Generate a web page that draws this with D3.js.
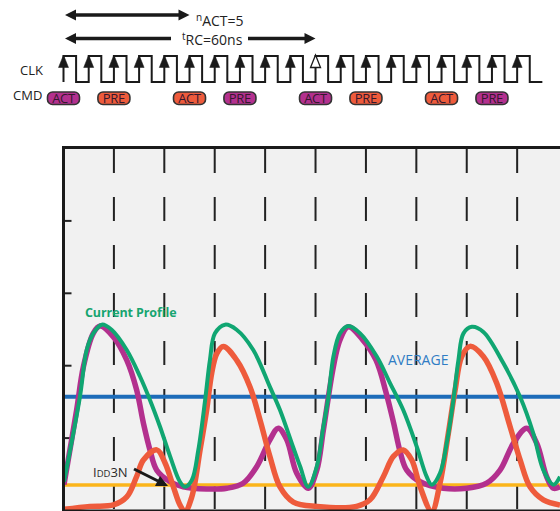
<!DOCTYPE html>
<html><head><meta charset="utf-8">
<script src="https://cdn.jsdelivr.net/npm/d3@7"></script>
<style>body{margin:0;background:#fff;}svg{display:block}</style>
</head><body>
<svg id="c" width="560" height="511"></svg>
<script>
// ---- data ----
const clockRises = [0,1,2,3,4,5,6,7,8,9,10,11,12,13,14,15,16,17,18];
const hollowRise = 10;
const cmdCycles = [0,2,5,7,10,12,15,17];
const cmdLabels = ["ACT","PRE","ACT","PRE","ACT","PRE","ACT","PRE"];
const cmdBanks  = ["A","B","B","A","A","B","B","A"];
const gridCycles = [2,4,6,8,10,12,14,16,18];
const yTicks = [1,2,3,4];
const averageLevel = 1.565;
const idd3nLevel = 0.345;

const profileCycle = [0.02,0.65,0.92,1.18,1.52,1.91,2.51,3.04,3.43,3.83,4.23,4.62,4.82,5.09,5.35,5.62,5.81,6.01,6.41,6.87,7.53,8.19,8.59,9.11,9.39,9.71,10.05,10.31,10.51,10.71,10.97,11.30,11.77,12.43,12.96,13.48,14.02,14.41,14.61,14.94,15.21,15.47,15.67,15.87,16.20,16.66,17.45,18.12,18.64,19.04,19.44,19.70];
const profileValue = [0.39,1.56,2.21,2.44,2.56,2.49,2.21,1.84,1.52,1.15,0.74,0.39,0.32,0.41,0.83,1.52,2.07,2.44,2.56,2.49,2.21,1.70,1.38,0.87,0.60,0.32,0.60,1.15,1.56,2.12,2.44,2.54,2.44,2.12,1.75,1.38,0.87,0.46,0.35,0.51,0.93,1.52,2.07,2.44,2.53,2.46,2.03,1.56,1.06,0.55,0.35,0.46];

const bankACycle = [0.02,0.52,0.79,1.18,1.45,1.98,2.51,2.90,3.17,3.43,3.70,4.23,4.75,5.68,6.48,7.13,7.67,8.19,8.52,8.86,9.25,9.71,10.05,10.31,10.71,10.97,11.30,11.85,12.40,12.80,13.10,13.36,13.62,14.15,15.07,16.00,16.79,17.32,17.85,18.38,18.78,19.17,19.44,19.70];
const bankAValue = [0.35,1.38,1.98,2.44,2.54,2.39,2.07,1.66,1.20,0.83,0.55,0.39,0.32,0.29,0.30,0.37,0.60,0.97,1.13,0.97,0.51,0.30,0.55,1.10,1.98,2.35,2.53,2.36,2.07,1.62,1.20,0.80,0.55,0.39,0.30,0.30,0.37,0.55,0.92,1.13,0.92,0.46,0.30,0.32];

const bankBCycle = [0.02,1.05,1.98,2.51,2.90,3.17,3.70,4.03,4.36,4.62,4.82,5.09,5.42,5.68,5.88,6.08,6.34,6.87,7.40,7.80,8.19,8.59,9.12,10.05,11.63,12.16,12.69,13.09,13.48,13.82,14.15,14.61,14.94,15.27,15.54,15.80,16.13,16.66,17.19,17.72,18.12,18.51,19.04,19.70];
const bankBValue = [0.01,0.05,0.07,0.18,0.46,0.69,0.83,0.65,0.32,0.07,-0.02,0.18,0.83,1.38,1.89,2.16,2.26,2.07,1.70,1.24,0.74,0.32,0.11,0.05,0.05,0.14,0.46,0.74,0.83,0.69,0.32,-0.02,0.37,1.06,1.66,2.12,2.26,2.12,1.75,1.15,0.69,0.32,0.14,0.07];

// ---- drawing ----
const svg = d3.select("#c");
const x = d3.scaleLinear().domain([0,19.7]).range([63.5,560]);
const y = d3.scaleLinear().domain([0,5]).range([510,148]);
const font = "'Open Sans', 'Noto Sans', sans-serif";
const bankColor = {A:"#b3308e", B:"#ee5b3c"};

// top timing arrows
function dblArrow(x1, x2, yy, gapFrom, gapTo){
  const g = svg.append("g");
  if (gapFrom == null) {
    g.append("line").attr("x1",x1+8).attr("x2",x2-8).attr("y1",yy).attr("y2",yy).attr("stroke","#1a1a1a").attr("stroke-width",3.5);
  } else {
    g.append("line").attr("x1",x1+8).attr("x2",gapFrom).attr("y1",yy).attr("y2",yy).attr("stroke","#1a1a1a").attr("stroke-width",3.5);
    g.append("line").attr("x1",gapTo).attr("x2",x2-8).attr("y1",yy).attr("y2",yy).attr("stroke","#1a1a1a").attr("stroke-width",3.5);
  }
  g.append("path").attr("d",`M${x1},${yy} L${x1+11},${yy-5.5} L${x1+11},${yy+5.5} Z`).attr("fill","#1a1a1a");
  g.append("path").attr("d",`M${x2},${yy} L${x2-11},${yy-5.5} L${x2-11},${yy+5.5} Z`).attr("fill","#1a1a1a");
}
dblArrow(x(0)+1.5, x(5), 15);
dblArrow(x(0)+1.5, x(10), 38.5, 171, 248);

const t1 = svg.append("text").attr("x",196).attr("y",26).attr("font-family",font).attr("font-size",14).attr("fill","#222");
t1.append("tspan").attr("font-size",10).attr("dy",-5).text("n");
t1.append("tspan").attr("dy",5).text("ACT=5");
const t2 = svg.append("text").attr("x",182).attr("y",45).attr("font-family",font).attr("font-size",14).attr("fill","#222");
t2.append("tspan").attr("font-size",10).attr("dy",-5).text("t");
t2.append("tspan").attr("dy",5).text("RC=60ns");

// CLK / CMD labels
svg.append("text").attr("x",20).attr("y",74.5).attr("font-family",font).attr("font-size",13).attr("fill","#222").text("CLK");
svg.append("text").attr("x",13).attr("y",99.5).attr("font-family",font).attr("font-size",13).attr("fill","#222").text("CMD");

// clock waveform
const hi = 56, lo = 82;
let p = `M${x(0)},${lo}`;
clockRises.forEach((k,i)=>{
  p += ` V${hi} H${x(k+0.5)} V${lo}`;
  const nxt = i < clockRises.length-1 ? clockRises[i+1] : 19;
  p += ` H${x(nxt)}`;
});
svg.append("path").attr("d",p).attr("fill","none").attr("stroke","#1a1a1a").attr("stroke-width",2);
svg.selectAll(".clkArrow").data(clockRises).join("path")
  .attr("d",k=>`M${x(k)-5},${hi+11.5} L${x(k)},${hi-1} L${x(k)+5},${hi+11.5} Z`)
  .attr("fill",k=>k===hollowRise?"#fff":"#1a1a1a")
  .attr("stroke","#1a1a1a").attr("stroke-width",k=>k===hollowRise?1.3:0.5);

// command pills
const cmds = cmdCycles.map((c,i)=>({c, label:cmdLabels[i], bank:cmdBanks[i]}));
const pill = svg.selectAll(".pill").data(cmds).join("g");
pill.append("rect").attr("x",d=>x(d.c)-16).attr("y",92).attr("width",32).attr("height",12.5).attr("rx",5)
  .attr("fill",d=>bankColor[d.bank]).attr("stroke","#333").attr("stroke-width",1.6);
pill.append("text").attr("x",d=>x(d.c)).attr("y",103.2).attr("text-anchor","middle")
  .attr("font-family",font).attr("font-size",13).attr("letter-spacing",-0.3).attr("fill","#35182e").text(d=>d.label);

// plot area
svg.append("rect").attr("x",63).attr("y",148).attr("width",497).attr("height",363).attr("fill","#f1f1f1");

// dashed grid lines
svg.selectAll(".grid").data(gridCycles).join("line")
  .attr("x1",d=>x(d)).attr("x2",d=>x(d)).attr("y1",149).attr("y2",511)
  .attr("stroke","#222").attr("stroke-width",2).attr("stroke-dasharray","24,24");

// y axis ticks
const yAxis = d3.axisRight(y).tickValues(yTicks).tickSize(8).tickFormat("");
const ag = svg.append("g").attr("transform","translate(63.5,0)").call(yAxis);
ag.select(".domain").remove();
ag.selectAll(".tick line").attr("stroke","#222").attr("stroke-width",2);

// reference levels
svg.append("line").attr("x1",64).attr("x2",560).attr("y1",y(averageLevel)).attr("y2",y(averageLevel))
  .attr("stroke","#1d6cb9").attr("stroke-width",4);
svg.append("line").attr("x1",64).attr("x2",560).attr("y1",y(idd3nLevel)).attr("y2",y(idd3nLevel))
  .attr("stroke","#fbb51b").attr("stroke-width",3.5);

// curves
const line = d3.line().x(d=>x(d[0])).y(d=>y(d[1])).curve(d3.curveCatmullRom.alpha(0.5));
const zip = (a,b)=>a.map((v,i)=>[v,b[i]]);
svg.append("defs").append("clipPath").attr("id","clip").append("rect").attr("x",64).attr("y",149).attr("width",496).attr("height",362);
const cg = svg.append("g").attr("clip-path","url(#clip)");
cg.append("path").attr("d",line(zip(bankACycle,bankAValue))).attr("fill","none").attr("stroke","#b3308e").attr("stroke-width",5.5).attr("stroke-linejoin","round");
cg.append("path").attr("d",line(zip(bankBCycle,bankBValue))).attr("fill","none").attr("stroke","#ee5b3c").attr("stroke-width",5.5).attr("stroke-linejoin","round");
cg.append("path").attr("d",line(zip(profileCycle,profileValue))).attr("fill","none").attr("stroke","#10a672").attr("stroke-width",4).attr("stroke-linejoin","round");

// frame
svg.append("line").attr("x1",63.5).attr("x2",63.5).attr("y1",146).attr("y2",511).attr("stroke","#1a1a1a").attr("stroke-width",3);
svg.append("line").attr("x1",62).attr("x2",560).attr("y1",147.5).attr("y2",147.5).attr("stroke","#1a1a1a").attr("stroke-width",3);
svg.append("line").attr("x1",62).attr("x2",560).attr("y1",510.5).attr("y2",510.5).attr("stroke","#1a1a1a").attr("stroke-width",2);

// labels
svg.append("text").attr("x",85).attr("y",316.5).attr("font-family",font).attr("font-size",12.5).attr("font-weight",700)
  .attr("letter-spacing",-0.1).attr("fill","#17a570").text("Current Profile");
svg.append("text").attr("x",388).attr("y",365).attr("font-family",font).attr("font-size",14).attr("fill","#2f7cc4").text("AVERAGE");
const t3 = svg.append("text").attr("x",93).attr("y",477).attr("font-family",font).attr("font-size",13).attr("fill","#2a2a2a");
t3.append("tspan").text("I");
t3.append("tspan").attr("font-size",9.5).text("DD");
t3.append("tspan").text("3N");
svg.append("line").attr("x1",134).attr("y1",469).attr("x2",158).attr("y2",481).attr("stroke","#1a1a1a").attr("stroke-width",3);
svg.append("path").attr("d","M168,486 L155,486 L160,476 Z").attr("fill","#1a1a1a");
</script>
</body></html>
